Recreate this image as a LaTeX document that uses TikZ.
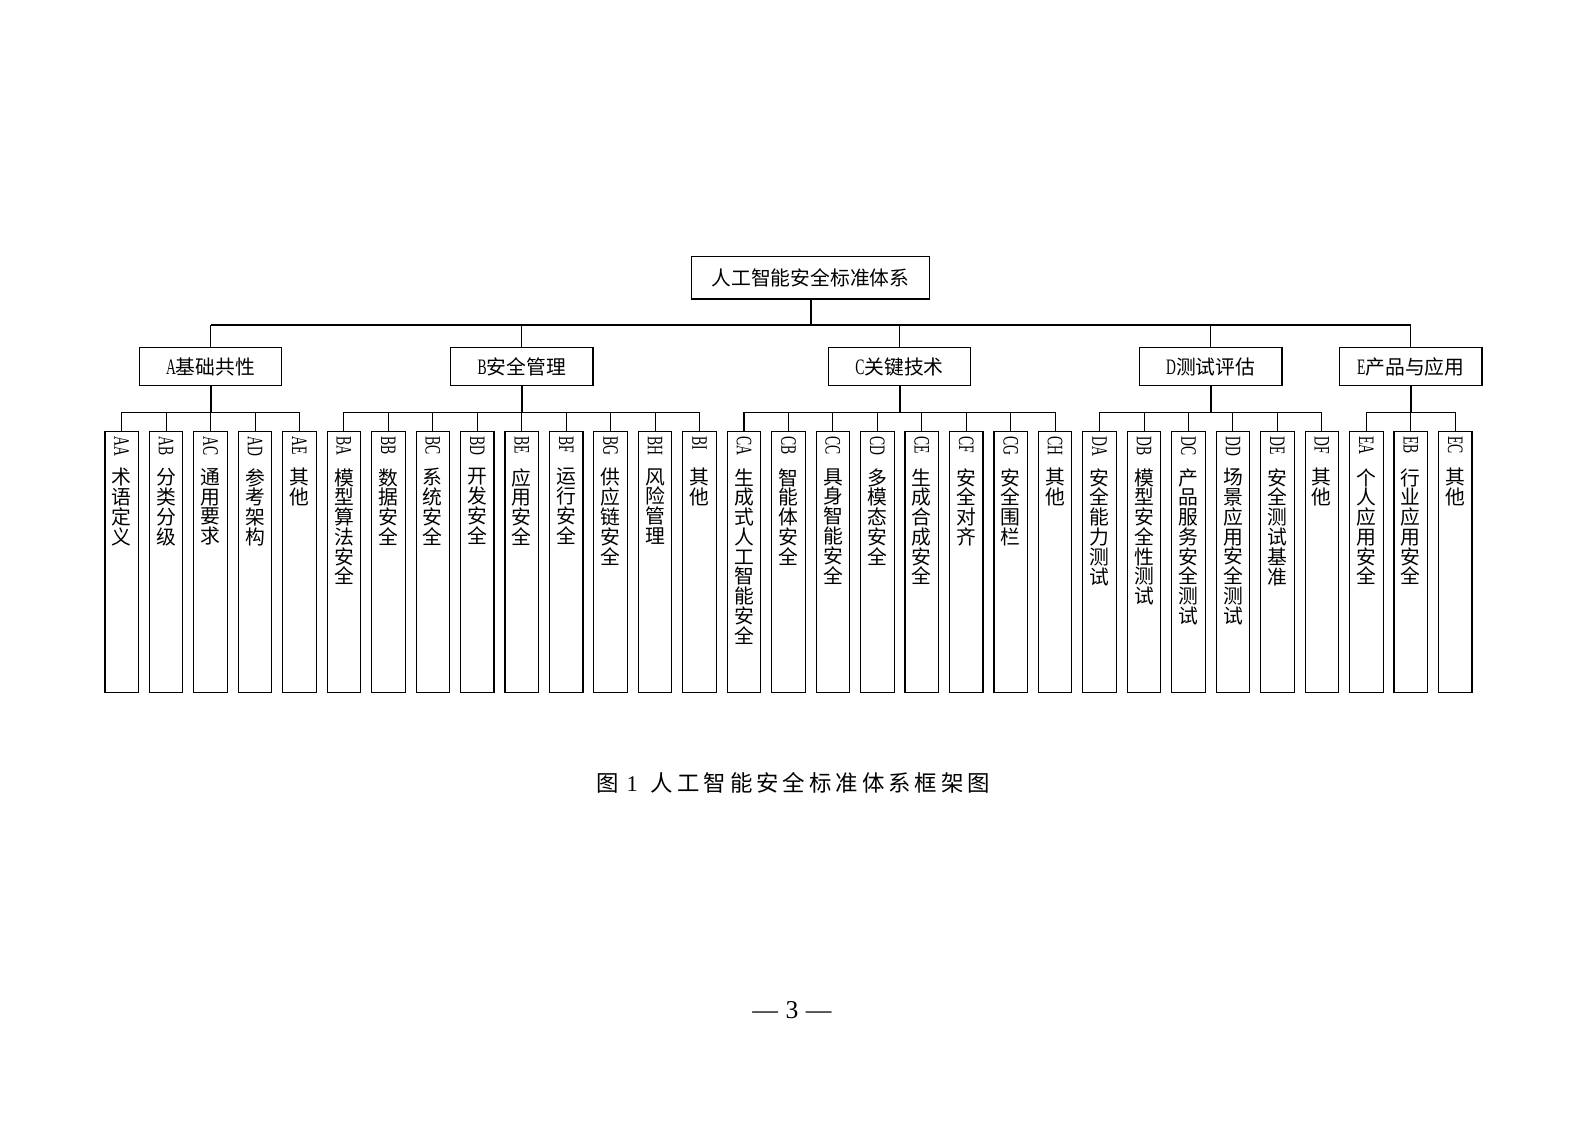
\documentclass[tikz,border=0pt]{standalone}
\usepackage{fontspec}
\usepackage{graphicx}
\setmainfont{Liberation Serif}
\newfontfamily\cjk{Noto Sans CJK SC}
\newcommand\lat[1]{\scalebox{0.62}[1]{\fontsize{11.7}{11.7}\selectfont\rmfamily #1}}
\makeatletter
\def\vst#1{\vst@a#1\@nil}
\def\vst@a#1{\ifx#1\@nil\else #1\\\expandafter\vst@a\fi}
\def\spc#1{\spc@a#1\@nil}
\def\spc@a#1{\ifx#1\@nil\else #1\hspace{2.1pt}\expandafter\spc@a\fi}
\makeatother
\tikzset{
  thinline/.style={line width=0.55pt, draw=black},
  stem/.style={line width=1.05pt, draw=black},
  rootbox/.style={draw, line width=0.6pt, inner sep=0pt, minimum width=126.05pt, minimum height=22.44pt, font=\cjk\fontsize{10.5}{10.5}\selectfont},
  midbox/.style={draw, line width=0.6pt, inner sep=0pt, minimum width=75.6pt, minimum height=20.16pt, font=\cjk\fontsize{10.5}{10.5}\selectfont},
  subbox/.style={draw, line width=0.6pt, inner sep=0pt, minimum width=17.77pt, minimum height=138.46pt, anchor=north},
  latlab/.style={rotate=-90, anchor=west, inner sep=0pt},
  cjklab/.style={anchor=north, align=center, inner sep=0pt, font=\cjk\fontsize{10.5}{10.5}\selectfont},
}
\begin{document}
\begin{tikzpicture}[x=0.5305pt, y=-0.5305pt]
\useasboundingbox (0,0) rectangle (1587,1122);
% root and level 2
\node[rootbox] (root) at (810.5,277.85) {人工智能安全标准体系};
\node[midbox] (A) at (210.6,366.7) {\lat{A}基础共性};
\node[midbox] (B) at (521.75,366.7) {\lat{B}安全管理};
\node[midbox] (C) at (899.575,366.7) {\lat{C}关键技术};
\node[midbox] (D) at (1210.725,366.7) {\lat{D}测试评估};
\node[midbox] (E) at (1410.75,366.7) {\lat{E}产品与应用};
% leaves
\foreach \i/\cd/\txt in {
 0/AA/术语定义, 1/AB/分类分级, 2/AC/通用要求, 3/AD/参考架构, 4/AE/其他,
 5/BA/模型算法安全, 6/BB/数据安全, 7/BC/系统安全, 8/BD/开发安全, 9/BE/应用安全,
 10/BF/运行安全, 11/BG/供应链安全, 12/BH/风险管理, 13/BI/其他,
 14/CA/生成式人工智能安全, 15/CB/智能体安全, 16/CC/具身智能安全, 17/CD/多模态安全,
 18/CE/生成合成安全, 19/CF/安全对齐, 20/CG/安全围栏, 21/CH/其他,
 22/DA/安全能力测试, 23/DB/模型安全性测试, 24/DC/产品服务安全测试, 25/DD/场景应用安全测试,
 26/DE/安全测试基准, 27/DF/其他,
 28/EA/个人应用安全, 29/EB/行业应用安全, 30/EC/其他} {
  \pgfmathsetmacro\xx{121.7+44.45*\i}
  \node[subbox] (\cd) at (\xx,430.7) {};
  \node[latlab] (\cd-l) at (\xx,436) {\lat{\cd}};
  \node[cjklab] (\cd-c) at (\xx,468) {\expandafter\vst\expandafter{\txt}};
}
% connectors
\coordinate (mbus) at (0,325);
\coordinate (sbus) at (0,412.3);
\draw[stem] (root.south) -- (root.south |- mbus);
\draw[thinline] (A.north |- mbus) -- (E.north |- mbus);
\foreach \g in {A,B,C,D,E} {
  \draw[thinline] (\g.north |- mbus) -- (\g.north);
  \draw[stem] (\g.south) -- (\g.south |- sbus);
}
\draw[thinline] (AA.north |- sbus) -- (AE.north |- sbus);
\draw[thinline] (BA.north |- sbus) -- (BI.north |- sbus);
\draw[thinline] (CA.north |- sbus) -- (CH.north |- sbus);
\draw[thinline] (DA.north |- sbus) -- (DF.north |- sbus);
\draw[thinline] (EA.north |- sbus) -- (EC.north |- sbus);
\foreach \cd in {AA,AB,AC,AD,AE,BA,BB,BC,BD,BE,BF,BG,BH,BI,CA,CB,CC,CD,CE,CF,CG,CH,DA,DB,DC,DD,DE,DF,EA,EB,EC} {
  \draw[thinline] (\cd.north |- sbus) -- (\cd.north);
}
% caption and page number
\node[anchor=west, inner sep=0pt, font=\cjk\fontsize{11.9}{11.9}\selectfont] (caption) at (596.2,783) {图\hspace{4.1pt}{\rmfamily 1}\hspace{6.9pt}\spc{人工智能安全标准体系框架}图};
\node[anchor=base, inner sep=0pt, font=\rmfamily\fontsize{13.6}{13.6}\selectfont] (pagenum) at (792,1018) {—\hspace{4pt}3\hspace{4pt}—};
\end{tikzpicture}
\end{document}
